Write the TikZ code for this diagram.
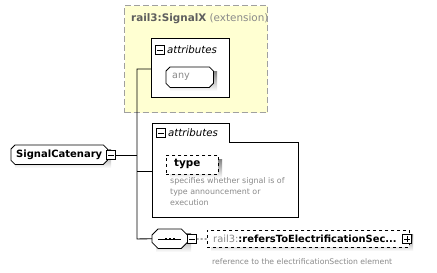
\documentclass[tikz,border=0pt]{standalone}
\usepackage{fontspec}
\setmainfont{DejaVu Sans}
\definecolor{extfill}{HTML}{FFFFD2}
\definecolor{extline}{HTML}{A0A0A0}
\definecolor{shade}{HTML}{C4C4C4}
\definecolor{dimtext}{HTML}{8A8A8A}
\definecolor{titletext}{HTML}{5E5E5E}
% outline with cut corners around a named node: #1 node, #2 corner cut
\newcommand\cutcorners[2]{%
  \draw[line width=0.8pt, fill=white]
    ([xshift=#2]#1.north west) -- ([xshift=-#2]#1.north east)
    -- ([yshift=-#2]#1.north east) -- ([yshift=#2]#1.south east)
    -- ([xshift=-#2]#1.south east) -- ([xshift=#2]#1.south west)
    -- ([yshift=#2]#1.south west) -- ([yshift=-#2]#1.north west) -- cycle;}
\begin{document}
\begin{tikzpicture}[x=1pt,y=-1pt,
  extbox/.style={draw=extline, fill=extfill, line width=1pt, dash pattern=on 6pt off 3pt, inner sep=0pt},
  groupbox/.style={draw=black, line width=0.9pt, inner sep=0pt},
  frame/.style={inner sep=0pt, draw=none},
  attrbox/.style={draw=black, dashed, fill=white, line width=0.8pt, inner sep=0pt},
  pmbox/.style={draw=black, fill=white, line width=0.7pt, minimum size=9pt, inner sep=0pt},
  conn/.style={draw=black, line width=0.9pt},
  label/.style={inner sep=0pt, anchor=west, font=\fontsize{9.6}{11}\selectfont},
  note/.style={inner sep=0pt, anchor=north west, align=left, text=dimtext, font=\fontsize{7.9}{11}\selectfont}
]
\useasboundingbox (0,0) rectangle (437,273);
\fill[white] (0,0) rectangle (437,273);

% base type (extension) frame
\node[extbox, minimum width=143pt, minimum height=107pt, anchor=north west] (ext) at (124,5) {};
\node[label, font=\fontsize{10.4}{11}\selectfont] (exttitle) at (131,19) {\textcolor{titletext}{\textbf{rail3:SignalX}} \textcolor{dimtext}{(extension)}};

% inherited attribute group
\node[groupbox, fill=white, minimum width=78pt, minimum height=59pt, anchor=north west] (attrA) at (151,38) {};
\node[pmbox, anchor=west] (attrAminus) at (155,50) {};
\draw[line width=0.7pt] ([xshift=2pt]attrAminus.west) -- ([xshift=-2pt]attrAminus.east);
\node[label, font=\fontsize{10.2}{11}\selectfont\itshape] (attrAlbl) at (167,50) {attributes};
\fill[shade] (170,71) rectangle (217,91);
\node[frame, minimum width=47pt, minimum height=20pt, anchor=north west] (any) at (166,67) {};
\cutcorners{any}{4pt}
\node[label, text=dimtext] (anylbl) at (172,77) {any};

% root element
\fill[shade] (15,149) rectangle (111,168);
\node[frame, minimum width=96pt, minimum height=19pt, anchor=north west] (root) at (11,145) {};
\cutcorners{root}{4pt}
\node[label, font=\fontsize{10}{11}\selectfont\bfseries] (rootlbl) at (16,155) {SignalCatenary};
\node[pmbox, anchor=west] (rootminus) at (106,155) {};
\draw[line width=0.7pt] ([xshift=2pt]rootminus.west) -- ([xshift=-2pt]rootminus.east);

% own attribute group
\draw[line width=0.9pt, fill=white] (152,123) -- (229,123) -- (229,142) -- (298,142) -- (298,217) -- (152,217) -- cycle;
\coordinate (attrB) at (152,171);
\node[pmbox, anchor=west] (attrBminus) at (156,133) {};
\draw[line width=0.7pt] ([xshift=2pt]attrBminus.west) -- ([xshift=-2pt]attrBminus.east);
\node[label, font=\fontsize{10.2}{11}\selectfont\itshape] (attrBlbl) at (168,133) {attributes};
\fill[shade] (170,159) rectangle (222,178);
\node[attrbox, minimum width=52pt, minimum height=19pt, anchor=north west] (type) at (166,155) {};
\node[label, font=\fontsize{10.4}{11}\selectfont\bfseries] (typelbl) at (174,164) {type};
\node[note] (typenote) at (170,177) {specifies whether signal is of\\type announcement or\\execution};

% sequence compositor
\fill[shade] (156,233) rectangle (191,252);
\node[frame, minimum width=35pt, minimum height=19pt, anchor=north west] (seq) at (152,229) {};
\cutcorners{seq}{6pt}
\draw[line width=0.8pt] (158,239) -- (181,239);
\foreach \px in {166,170,174} \fill (\px-1.4,237.6) rectangle (\px+1.4,240.4);
\node[pmbox, anchor=west] (seqminus) at (187,239) {};
\draw[line width=0.7pt] ([xshift=2pt]seqminus.west) -- ([xshift=-2pt]seqminus.east);

% referenced element
\fill[shade] (211,234) rectangle (413,251);
\node[attrbox, minimum width=202pt, minimum height=17pt, anchor=north west] (elem) at (207,230) {};
\node[label, font=\fontsize{9.9}{11}\selectfont] (elemlbl) at (213,239) {\textcolor{dimtext}{rail3:}\textbf{:refersToElectrificationSec...}};
\node[pmbox, anchor=west] (elemplus) at (402,239) {};
\draw[line width=0.7pt] ([xshift=2pt]elemplus.west) -- ([xshift=-2pt]elemplus.east)
  ([yshift=2pt]elemplus.south) -- ([yshift=-2pt]elemplus.north);
\node[note, font=\fontsize{7.7}{11}\selectfont] (elemnote) at (212,258) {reference to the electrificationSection element};

% connectors
\coordinate (trunkTop) at (137,69);
\draw[conn] (attrA.west |- trunkTop) -- (trunkTop) -- (137,239) -- (seq.west);
\draw[conn] (rootminus.east) -- (137,155);
\draw[conn] (137,171) -- (attrB);
\draw[line width=0.7pt, dash pattern=on 2pt off 2pt] (seqminus.east) -- (elem.west);
\end{tikzpicture}
\end{document}
